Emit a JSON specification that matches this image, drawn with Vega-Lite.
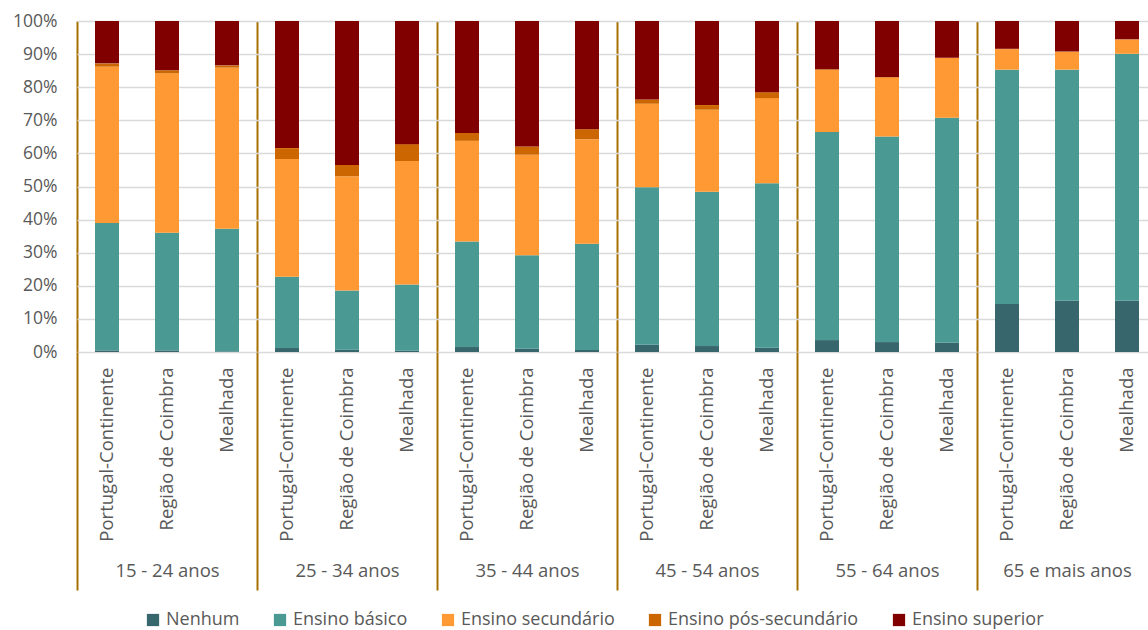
{
  "$schema": "https://vega.github.io/schema/vega-lite/v6.json",
  "width": 1071,
  "height": 331,
  "autosize": {"type": "none"},
  "padding": {"left": 77, "top": 21, "right": 0, "bottom": 278},
  "background": "white",
  "config": {
    "view": {"stroke": null},
    "font": "Open Sans",
    "axis": {"labelColor": "#595959", "labelFont": "Open Sans", "labelFontSize": 17},
    "legend": {"labelColor": "#595959", "labelFont": "Open Sans", "labelFontSize": 18}
  },
  "data": {"values": [
    {"g":"15 - 24 anos","r":"Portugal-Continente","c":"Nenhum","o":0,"v":0.5},
    {"g":"15 - 24 anos","r":"Portugal-Continente","c":"Ensino básico","o":1,"v":38.5},
    {"g":"15 - 24 anos","r":"Portugal-Continente","c":"Ensino secundário","o":2,"v":47.2},
    {"g":"15 - 24 anos","r":"Portugal-Continente","c":"Ensino pós-secundário","o":3,"v":1.0},
    {"g":"15 - 24 anos","r":"Portugal-Continente","c":"Ensino superior","o":4,"v":12.8},
    {"g":"15 - 24 anos","r":"Região de Coimbra","c":"Nenhum","o":0,"v":0.5},
    {"g":"15 - 24 anos","r":"Região de Coimbra","c":"Ensino básico","o":1,"v":35.5},
    {"g":"15 - 24 anos","r":"Região de Coimbra","c":"Ensino secundário","o":2,"v":48.2},
    {"g":"15 - 24 anos","r":"Região de Coimbra","c":"Ensino pós-secundário","o":3,"v":0.9},
    {"g":"15 - 24 anos","r":"Região de Coimbra","c":"Ensino superior","o":4,"v":14.9},
    {"g":"15 - 24 anos","r":"Mealhada","c":"Nenhum","o":0,"v":0.2},
    {"g":"15 - 24 anos","r":"Mealhada","c":"Ensino básico","o":1,"v":37.0},
    {"g":"15 - 24 anos","r":"Mealhada","c":"Ensino secundário","o":2,"v":48.7},
    {"g":"15 - 24 anos","r":"Mealhada","c":"Ensino pós-secundário","o":3,"v":0.7},
    {"g":"15 - 24 anos","r":"Mealhada","c":"Ensino superior","o":4,"v":13.4},
    {"g":"25 - 34 anos","r":"Portugal-Continente","c":"Nenhum","o":0,"v":1.2},
    {"g":"25 - 34 anos","r":"Portugal-Continente","c":"Ensino básico","o":1,"v":21.5},
    {"g":"25 - 34 anos","r":"Portugal-Continente","c":"Ensino secundário","o":2,"v":35.6},
    {"g":"25 - 34 anos","r":"Portugal-Continente","c":"Ensino pós-secundário","o":3,"v":3.3},
    {"g":"25 - 34 anos","r":"Portugal-Continente","c":"Ensino superior","o":4,"v":38.4},
    {"g":"25 - 34 anos","r":"Região de Coimbra","c":"Nenhum","o":0,"v":0.7},
    {"g":"25 - 34 anos","r":"Região de Coimbra","c":"Ensino básico","o":1,"v":17.9},
    {"g":"25 - 34 anos","r":"Região de Coimbra","c":"Ensino secundário","o":2,"v":34.5},
    {"g":"25 - 34 anos","r":"Região de Coimbra","c":"Ensino pós-secundário","o":3,"v":3.4},
    {"g":"25 - 34 anos","r":"Região de Coimbra","c":"Ensino superior","o":4,"v":43.5},
    {"g":"25 - 34 anos","r":"Mealhada","c":"Nenhum","o":0,"v":0.4},
    {"g":"25 - 34 anos","r":"Mealhada","c":"Ensino básico","o":1,"v":20.0},
    {"g":"25 - 34 anos","r":"Mealhada","c":"Ensino secundário","o":2,"v":37.3},
    {"g":"25 - 34 anos","r":"Mealhada","c":"Ensino pós-secundário","o":3,"v":5.1},
    {"g":"25 - 34 anos","r":"Mealhada","c":"Ensino superior","o":4,"v":37.2},
    {"g":"35 - 44 anos","r":"Portugal-Continente","c":"Nenhum","o":0,"v":1.5},
    {"g":"35 - 44 anos","r":"Portugal-Continente","c":"Ensino básico","o":1,"v":31.9},
    {"g":"35 - 44 anos","r":"Portugal-Continente","c":"Ensino secundário","o":2,"v":30.4},
    {"g":"35 - 44 anos","r":"Portugal-Continente","c":"Ensino pós-secundário","o":3,"v":2.4},
    {"g":"35 - 44 anos","r":"Portugal-Continente","c":"Ensino superior","o":4,"v":33.8},
    {"g":"35 - 44 anos","r":"Região de Coimbra","c":"Nenhum","o":0,"v":1.0},
    {"g":"35 - 44 anos","r":"Região de Coimbra","c":"Ensino básico","o":1,"v":28.2},
    {"g":"35 - 44 anos","r":"Região de Coimbra","c":"Ensino secundário","o":2,"v":30.4},
    {"g":"35 - 44 anos","r":"Região de Coimbra","c":"Ensino pós-secundário","o":3,"v":2.5},
    {"g":"35 - 44 anos","r":"Região de Coimbra","c":"Ensino superior","o":4,"v":37.9},
    {"g":"35 - 44 anos","r":"Mealhada","c":"Nenhum","o":0,"v":0.6},
    {"g":"35 - 44 anos","r":"Mealhada","c":"Ensino básico","o":1,"v":32.1},
    {"g":"35 - 44 anos","r":"Mealhada","c":"Ensino secundário","o":2,"v":31.6},
    {"g":"35 - 44 anos","r":"Mealhada","c":"Ensino pós-secundário","o":3,"v":3.0},
    {"g":"35 - 44 anos","r":"Mealhada","c":"Ensino superior","o":4,"v":32.7},
    {"g":"45 - 54 anos","r":"Portugal-Continente","c":"Nenhum","o":0,"v":2.2},
    {"g":"45 - 54 anos","r":"Portugal-Continente","c":"Ensino básico","o":1,"v":47.6},
    {"g":"45 - 54 anos","r":"Portugal-Continente","c":"Ensino secundário","o":2,"v":25.2},
    {"g":"45 - 54 anos","r":"Portugal-Continente","c":"Ensino pós-secundário","o":3,"v":1.3},
    {"g":"45 - 54 anos","r":"Portugal-Continente","c":"Ensino superior","o":4,"v":23.7},
    {"g":"45 - 54 anos","r":"Região de Coimbra","c":"Nenhum","o":0,"v":1.8},
    {"g":"45 - 54 anos","r":"Região de Coimbra","c":"Ensino básico","o":1,"v":46.6},
    {"g":"45 - 54 anos","r":"Região de Coimbra","c":"Ensino secundário","o":2,"v":24.8},
    {"g":"45 - 54 anos","r":"Região de Coimbra","c":"Ensino pós-secundário","o":3,"v":1.4},
    {"g":"45 - 54 anos","r":"Região de Coimbra","c":"Ensino superior","o":4,"v":25.4},
    {"g":"45 - 54 anos","r":"Mealhada","c":"Nenhum","o":0,"v":1.3},
    {"g":"45 - 54 anos","r":"Mealhada","c":"Ensino básico","o":1,"v":49.7},
    {"g":"45 - 54 anos","r":"Mealhada","c":"Ensino secundário","o":2,"v":25.7},
    {"g":"45 - 54 anos","r":"Mealhada","c":"Ensino pós-secundário","o":3,"v":1.8},
    {"g":"45 - 54 anos","r":"Mealhada","c":"Ensino superior","o":4,"v":21.5},
    {"g":"55 - 64 anos","r":"Portugal-Continente","c":"Nenhum","o":0,"v":3.6},
    {"g":"55 - 64 anos","r":"Portugal-Continente","c":"Ensino básico","o":1,"v":62.9},
    {"g":"55 - 64 anos","r":"Portugal-Continente","c":"Ensino secundário","o":2,"v":18.7},
    {"g":"55 - 64 anos","r":"Portugal-Continente","c":"Ensino pós-secundário","o":3,"v":0.2},
    {"g":"55 - 64 anos","r":"Portugal-Continente","c":"Ensino superior","o":4,"v":14.6},
    {"g":"55 - 64 anos","r":"Região de Coimbra","c":"Nenhum","o":0,"v":3.0},
    {"g":"55 - 64 anos","r":"Região de Coimbra","c":"Ensino básico","o":1,"v":62.1},
    {"g":"55 - 64 anos","r":"Região de Coimbra","c":"Ensino secundário","o":2,"v":17.8},
    {"g":"55 - 64 anos","r":"Região de Coimbra","c":"Ensino pós-secundário","o":3,"v":0.2},
    {"g":"55 - 64 anos","r":"Região de Coimbra","c":"Ensino superior","o":4,"v":16.9},
    {"g":"55 - 64 anos","r":"Mealhada","c":"Nenhum","o":0,"v":2.8},
    {"g":"55 - 64 anos","r":"Mealhada","c":"Ensino básico","o":1,"v":68.0},
    {"g":"55 - 64 anos","r":"Mealhada","c":"Ensino secundário","o":2,"v":18.0},
    {"g":"55 - 64 anos","r":"Mealhada","c":"Ensino pós-secundário","o":3,"v":0.1},
    {"g":"55 - 64 anos","r":"Mealhada","c":"Ensino superior","o":4,"v":11.1},
    {"g":"65 e mais anos","r":"Portugal-Continente","c":"Nenhum","o":0,"v":14.5},
    {"g":"65 e mais anos","r":"Portugal-Continente","c":"Ensino básico","o":1,"v":70.8},
    {"g":"65 e mais anos","r":"Portugal-Continente","c":"Ensino secundário","o":2,"v":6.2},
    {"g":"65 e mais anos","r":"Portugal-Continente","c":"Ensino pós-secundário","o":3,"v":0.1},
    {"g":"65 e mais anos","r":"Portugal-Continente","c":"Ensino superior","o":4,"v":8.4},
    {"g":"65 e mais anos","r":"Região de Coimbra","c":"Nenhum","o":0,"v":15.5},
    {"g":"65 e mais anos","r":"Região de Coimbra","c":"Ensino básico","o":1,"v":69.8},
    {"g":"65 e mais anos","r":"Região de Coimbra","c":"Ensino secundário","o":2,"v":5.4},
    {"g":"65 e mais anos","r":"Região de Coimbra","c":"Ensino pós-secundário","o":3,"v":0.1},
    {"g":"65 e mais anos","r":"Região de Coimbra","c":"Ensino superior","o":4,"v":9.2},
    {"g":"65 e mais anos","r":"Mealhada","c":"Nenhum","o":0,"v":15.5},
    {"g":"65 e mais anos","r":"Mealhada","c":"Ensino básico","o":1,"v":74.6},
    {"g":"65 e mais anos","r":"Mealhada","c":"Ensino secundário","o":2,"v":4.3},
    {"g":"65 e mais anos","r":"Mealhada","c":"Ensino pós-secundário","o":3,"v":0.1},
    {"g":"65 e mais anos","r":"Mealhada","c":"Ensino superior","o":4,"v":5.5}
  ]},
  "transform": [{"calculate": "datum.g + '|' + datum.r", "as": "k"}],
  "layer": [
    {
      "mark": {"type": "bar", "opacity": 0},
      "encoding": {
        "x": {
          "field": "g", "type": "nominal", "sort": null,
          "scale": {"type": "band", "paddingInner": 0, "paddingOuter": 0, "range": [0, 1080]},
          "axis": {
            "title": null, "orient": "bottom", "labelAngle": 0, "domain": false,
            "grid": true, "gridColor": "#A67000", "gridWidth": 2, "gridOpacity": 1,
            "ticks": true, "tickBand": "extent", "tickSize": 238, "tickColor": "#A67000", "tickWidth": 2,
            "labelPadding": -29, "labelFontSize": 18.5, "labelLimit": 300
          }
        }
      }
    },
    {
      "mark": {"type": "bar"},
      "encoding": {
        "x": {
          "field": "k", "type": "nominal", "sort": null,
          "scale": {"type": "band", "paddingInner": 0.6, "paddingOuter": 0.3, "range": [0, 1080]},
          "axis": {
            "title": null, "orient": "bottom", "labelExpr": "split(datum.label, '|')[1]",
            "labelAngle": 270, "labelAlign": "right", "labelBaseline": "middle",
            "labelPadding": 15, "ticks": false, "domain": false, "grid": false,
            "labelOverlap": false, "labelLimit": 300, "labelFontSize": 18.5
          }
        },
        "y": {
          "field": "v", "type": "quantitative", "stack": "normalize",
          "scale": {"domain": [0, 1], "nice": false},
          "axis": {
            "title": null, "values": [0, 0.1, 0.2, 0.3, 0.4, 0.5, 0.6, 0.7, 0.8, 0.9, 1],
            "format": ".0%", "ticks": false, "domain": false, "labelPadding": 20,
            "grid": true, "gridColor": "#D9D9D9", "gridWidth": 1.5, "labelFontSize": 17.5
          }
        },
        "color": {
          "field": "c", "type": "nominal",
          "scale": {
            "domain": ["Nenhum", "Ensino básico", "Ensino secundário", "Ensino pós-secundário", "Ensino superior"],
            "range": ["#37666D", "#4A9A93", "#FF9933", "#CC6600", "#800000"]
          },
          "legend": {
            "title": null, "orient": "none", "legendX": 67, "legendY": 590,
            "direction": "horizontal", "symbolType": "square", "symbolSize": 150,
            "symbolStrokeWidth": 0, "labelOffset": 4, "columnPadding": 31, "padding": 0,
            "labelLimit": 400
          }
        },
        "order": {"field": "o", "type": "quantitative"}
      }
    }
  ],
  "resolve": {"scale": {"x": "independent"}, "axis": {"x": "independent"}}
}
